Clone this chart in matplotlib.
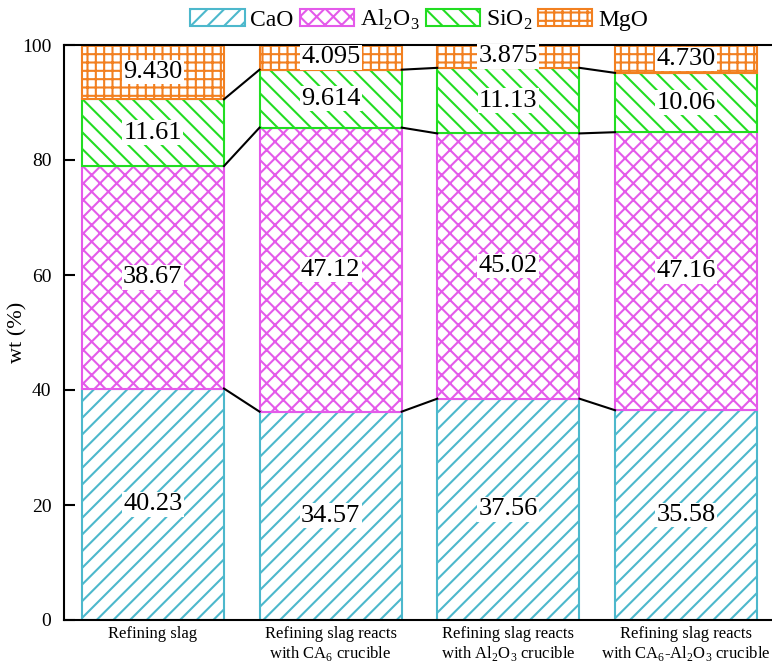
import numpy as np
import matplotlib
matplotlib.use('Agg')
import matplotlib.pyplot as plt

plt.rcParams['font.family'] = ['Liberation Serif', 'DejaVu Serif']
plt.rcParams['mathtext.fontset'] = 'custom'
plt.rcParams['mathtext.rm'] = 'Liberation Serif'
plt.rcParams['hatch.linewidth'] = 1.5

# data (wt %, raw values as labelled; bars are normalised to 100)
samples = ['Refining slag',
           'Refining slag reacts\nwith CA$_6$ crucible',
           'Refining slag reacts\nwith Al$_2$O$_3$ crucible',
           'Refining slag reacts\nwith CA$_6$-Al$_2$O$_3$ crucible']
components = ['CaO', 'Al$_2$O$_3$', 'SiO$_2$', 'MgO']
cao = [40.23, 34.57, 37.56, 35.58]
al2o3 = [38.67, 47.12, 45.02, 47.16]
sio2 = [11.61, 9.614, 11.13, 10.06]
mgo = [9.430, 4.095, 3.875, 4.730]
labels = [['40.23', '34.57', '37.56', '35.58'],
          ['38.67', '47.12', '45.02', '47.16'],
          ['11.61', '9.614', '11.13', '10.06'],
          ['9.430', '4.095', '3.875', '4.730']]

colors = ['#4DB8CC', '#E45AEA', '#22DD22', '#F28020']
hatches = ['//', 'xx', '\\\\', '++']

raw = np.array([cao, al2o3, sio2, mgo])
norm = raw / raw.sum(axis=0) * 100

fig = plt.figure(figsize=(7.72, 6.63), dpi=100)
ax = fig.add_axes([64/772, 43/663, 711/772, 575/663])

x = np.arange(len(samples))
w = 0.8
bottom = np.zeros(len(samples))
handles = []
for k in range(4):
    b = ax.bar(x, norm[k], w, bottom=bottom, facecolor='white',
               edgecolor=colors[k], hatch=hatches[k], linewidth=1.5,
               label=components[k], zorder=2)
    handles.append(b)
    for i in range(len(samples)):
        ax.text(x[i], bottom[i] + norm[k][i] / 2, labels[k][i],
                ha='center', va='center', fontsize=19, zorder=4,
                bbox=dict(facecolor='white', edgecolor='none', pad=1.0))
    bottom = bottom + norm[k]
    # connecting lines between neighbouring bars
    if k < 3:
        for i in range(len(samples) - 1):
            ax.plot([x[i] + w/2, x[i+1] - w/2], [bottom[i], bottom[i+1]],
                    color='black', lw=1.5, zorder=3)

ax.set_xlim(-0.5, 3.5)
ax.set_ylim(0, 100)
ax.set_xticks(x)
ax.set_yticks([0, 20, 40, 60, 80, 100])
ax.tick_params(axis='both', direction='in', length=8, width=1.5)
ax.tick_params(axis='y', pad=9, labelsize=14)
ax.tick_params(axis='x', pad=4)
ax.set_xticklabels(samples, fontsize=12, linespacing=1.2)
ax.set_ylabel('wt (%)', fontsize=16)
ax.yaxis.set_label_coords(-0.052, 0.5)
for s in ax.spines.values():
    s.set_linewidth(1.5)

fig.legend(handles=handles, loc='center', bbox_to_anchor=(0.543, 0.97),
           ncol=4, frameon=False, fontsize=17, handlelength=2.3,
           handleheight=0.75, handletextpad=0.25, columnspacing=0.25,
           borderpad=0.1)

fig.savefig('out.png', dpi=100)
